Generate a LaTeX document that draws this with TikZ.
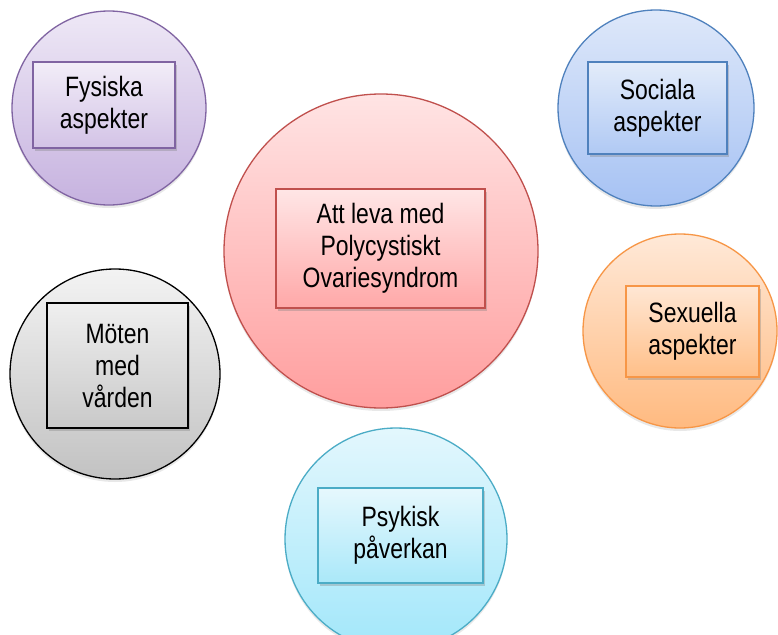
\documentclass[tikz,border=0pt]{standalone}
\usepackage{fontspec}
\setmainfont{Liberation Sans}[FakeStretch=0.82]
\usetikzlibrary{shadows}
\definecolor{purS}{HTML}{8064A2}
\definecolor{purT}{HTML}{EEE8F6}
\definecolor{purB}{HTML}{C6B2DF}
\definecolor{purBT}{HTML}{F2EDF8}
\definecolor{purBB}{HTML}{D3C3E6}
\definecolor{redS}{HTML}{C0504D}
\definecolor{redT}{HTML}{FFE4E4}
\definecolor{redB}{HTML}{FF9E9E}
\definecolor{redBT}{HTML}{FFE6E6}
\definecolor{redBB}{HTML}{FFA8A8}
\definecolor{gryS}{HTML}{000000}
\definecolor{gryT}{HTML}{F3F3F3}
\definecolor{gryB}{HTML}{C2C2C2}
\definecolor{gryBT}{HTML}{EFEFEF}
\definecolor{gryBB}{HTML}{C9C9C9}
\definecolor{bluS}{HTML}{4F81BD}
\definecolor{bluT}{HTML}{DEE8FA}
\definecolor{bluB}{HTML}{A6C2F3}
\definecolor{bluBT}{HTML}{E3ECFA}
\definecolor{bluBB}{HTML}{B0C9F4}
\definecolor{orgS}{HTML}{F79646}
\definecolor{orgT}{HTML}{FFE9D8}
\definecolor{orgB}{HTML}{FFBA80}
\definecolor{orgBT}{HTML}{FFE7D4}
\definecolor{orgBB}{HTML}{FFBF88}
\definecolor{cyaS}{HTML}{4BACC6}
\definecolor{cyaT}{HTML}{E3F7FD}
\definecolor{cyaB}{HTML}{A2E7FA}
\definecolor{cyaBT}{HTML}{E6F8FD}
\definecolor{cyaBB}{HTML}{AAE8F9}
\tikzset{
  bub/.style={circle, draw, line width=1.3pt, minimum size=#1, inner sep=0pt,
    drop shadow={opacity=0.18, shadow xshift=0pt, shadow yshift=-3pt}},
  lab/.style={rectangle, draw, line width=1.3pt, align=center, inner sep=0pt,
    font=\fontsize{28}{32}\selectfont,
    drop shadow={opacity=0.35, shadow xshift=2pt, shadow yshift=-3pt}},
  pur/.style={draw=purS, top color=purT, bottom color=purB},
  purb/.style={draw=purS, top color=purBT, bottom color=purBB},
  red/.style={draw=redS, top color=redT, bottom color=redB},
  redb/.style={draw=redS, top color=redBT, bottom color=redBB},
  gry/.style={draw=gryS, top color=gryT, bottom color=gryB},
  gryb/.style={draw=gryS, top color=gryBT, bottom color=gryBB},
  blu/.style={draw=bluS, top color=bluT, bottom color=bluB},
  blub/.style={draw=bluS, top color=bluBT, bottom color=bluBB},
  org/.style={draw=orgS, top color=orgT, bottom color=orgB},
  orgb/.style={draw=orgS, top color=orgBT, bottom color=orgBB},
  cya/.style={draw=cyaS, top color=cyaT, bottom color=cyaB},
  cyab/.style={draw=cyaS, top color=cyaBT, bottom color=cyaBB}
}
\begin{document}
\begin{tikzpicture}[x=1pt,y=-1pt]
\clip (0,0) rectangle (778,634);
\fill[white] (0,0) rectangle (778,634);
% circles
\node[bub=194pt, pur] (cfys) at (109,108) {};
\node[bub=314pt, red] (cmid) at (381,251) {};
\node[bub=210pt, gry] (cmot) at (115,374) {};
\node[bub=196pt, blu] (csoc) at (656,108) {};
\node[bub=194pt, org] (csex) at (680,331) {};
\node[bub=222pt, cya] (cpsy) at (396,539) {};
% boxes
\node[lab, purb, minimum width=142pt, minimum height=86pt] (fys) at (104,105) {Fysiska\\aspekter};
\node[lab, redb, minimum width=209pt, minimum height=119pt] (mid) at (380.5,248.5) {Att leva med\\Polycystiskt\\Ovariesyndrom};
\node[lab, gryb, minimum width=141pt, minimum height=125pt] (mot) at (117.5,365.5) {Möten\\med\\vården};
\node[lab, blub, minimum width=139pt, minimum height=92pt] (soc) at (657.5,108) {Sociala\\aspekter};
\node[lab, orgb, minimum width=133pt, minimum height=91pt] (sex) at (692.5,331.5) {Sexuella\\aspekter};
\node[lab, cyab, minimum width=165pt, minimum height=95pt] (psy) at (400.5,535.5) {Psykisk\\påverkan};
\end{tikzpicture}
\end{document}
